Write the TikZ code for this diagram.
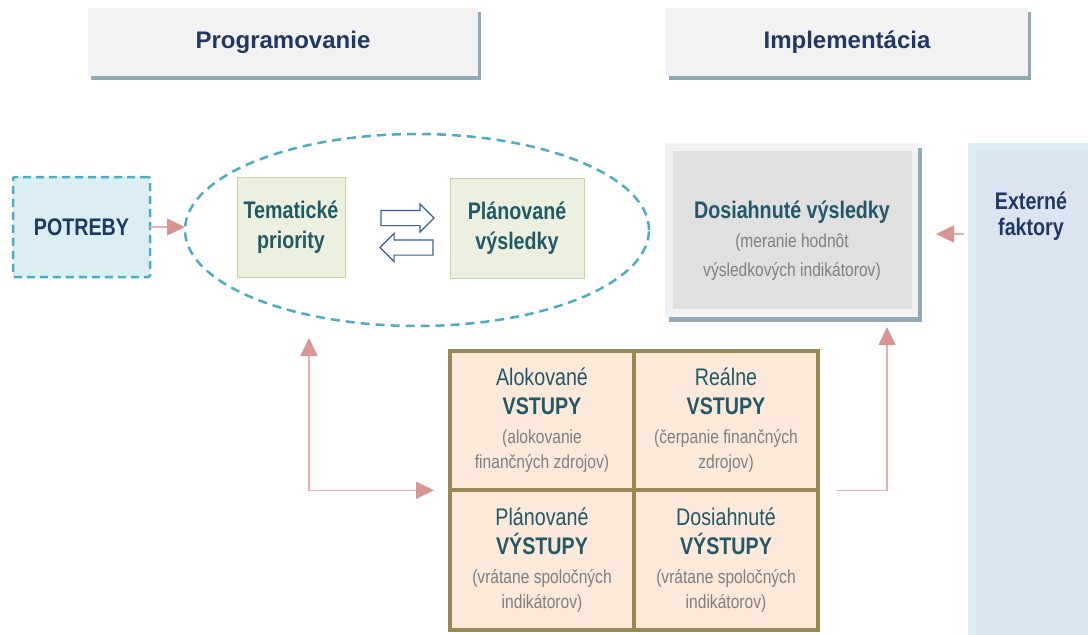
\documentclass[tikz,border=0pt]{standalone}
\usepackage{fontspec}
\setmainfont{Liberation Sans}
\newfontfamily\narrowsans[FakeStretch=0.82]{Liberation Sans}
\usepackage{tikz}
\usetikzlibrary{arrows.meta, positioning, shapes.geometric, shapes.arrows, shadows}

\definecolor{navy}{HTML}{1F3864}
\definecolor{tealtext}{HTML}{215968}
\definecolor{subgray}{HTML}{7F7F7F}
\definecolor{headfill}{HTML}{F2F2F2}
\definecolor{shadowcol}{HTML}{8EAAB4}
\definecolor{needfill}{HTML}{DAEEF3}
\definecolor{dashblue}{HTML}{4BACC6}
\definecolor{greenfill}{HTML}{EBF1DE}
\definecolor{greenline}{HTML}{C3D69B}
\definecolor{grayinner}{HTML}{DFE0DF}
\definecolor{extinner}{HTML}{DBE5F1}
\definecolor{peach}{HTML}{FDE9D9}
\definecolor{olive}{HTML}{948A54}
\definecolor{pinkline}{HTML}{E6AFAE}
\definecolor{pinktip}{HTML}{D99594}
\definecolor{arrowblue}{HTML}{3A5C96}

\newcommand\bunka[4]{{\fontsize{24}{29}\selectfont #1}\\[4pt]%
    {\bfseries\fontsize{24}{29}\selectfont #2}\\[4pt]%
    \textcolor{subgray}{#3}\\\textcolor{subgray}{#4}}

\begin{document}
\begin{tikzpicture}[
        x=1pt, y=-1pt,
        >={Triangle[length=18pt, width=17pt, color=pinktip]},
        every node/.style={outer sep=0pt},
        header/.style={fill=headfill, minimum height=68pt, text=navy,
            drop shadow={shadow xshift=3pt, shadow yshift=-4pt, fill=shadowcol, opacity=1},
            font=\bfseries\fontsize{24}{28}\selectfont},
        need/.style={draw=dashblue, fill=needfill, line width=2.5pt,
            dash pattern=on 8pt off 5pt, rounded corners=2pt,
            text=navy, font=\narrowsans\bfseries\fontsize{24}{28}\selectfont},
        greenbox/.style={draw=greenline, fill=greenfill, minimum width=108pt,
            minimum height=100pt, align=center, text=tealtext,
            font=\narrowsans\bfseries\fontsize{24}{30}\selectfont},
        swap/.style={single arrow, draw=arrowblue, fill=white, line width=1.2pt,
            single arrow head extend=6.5pt, inner xsep=0pt, inner ysep=7pt,
            minimum height=53pt, anchor=tail},
        cell/.style={draw=olive, line width=4pt, fill=peach, minimum width=184pt,
            minimum height=139.5pt, align=center, text=tealtext,
            font=\narrowsans\fontsize{19}{25}\selectfont},
        link/.style={draw=pinkline, line width=1.5pt}]

    \useasboundingbox (0,0) rectangle (1088,635);

    \node [header, minimum width=390pt] (prog) at (283,42) {Programovanie};
    \node [header, minimum width=362pt] (impl) at (847,42) {Implementácia};

    \node [need, minimum width=137pt, minimum height=100pt] (potreby) at (81.5,227) {POTREBY};
    \node [ellipse, draw=dashblue, line width=2.5pt, dash pattern=on 9pt off 6pt,
           minimum width=464pt, minimum height=192pt] (cyklus) at (417,230) {};
    \node [greenbox] (tema) at (291,227.5) {Tematické\\priority};
    \node [greenbox, minimum width=134pt] (plan) at (517,228) {Plánované\\výsledky};
    \node [swap] (tam) at (381,218) {};
    \node [swap, shape border rotate=180] (spat) at (433,247.5) {};

    \node [fill=headfill, minimum width=253pt, minimum height=174pt,
           drop shadow={shadow xshift=4pt, shadow yshift=-5pt, fill=shadowcol, opacity=1}]
           (dosiahnute) at (791.5,230) {};
    \node [fill=grayinner, minimum width=239pt, minimum height=158pt] (vnutro) at (792.5,230) {};
    \node [align=center, text=subgray, font=\narrowsans\fontsize{19}{29}\selectfont] (vysledky) at (792,241)
          {{\bfseries\fontsize{24}{29}\selectfont\color{tealtext}Dosiahnuté výsledky}\\(meranie hodnôt\\výsledkových indikátorov)};

    \node [fill=needfill, minimum width=130pt, minimum height=500pt, anchor=north west] (externe) at (968,143) {};
    \node [fill=extinner, minimum width=120pt, minimum height=490pt, anchor=north west] (externevnutro) at (976,151) {};
    \node [align=center, text=navy, font=\narrowsans\bfseries\fontsize{24}{26}\selectfont] (faktory) at (1031,216) {Externé\\faktory};

    \node [cell] (alok) at (542,420.5) {\bunka{Alokované}{VSTUPY}{(alokovanie}{finančných zdrojov)}};
    \node [cell, right=0pt of alok] (real) {\bunka{Reálne}{VSTUPY}{(čerpanie finančných}{zdrojov)}};
    \node [cell, below=0pt of alok] (planv) {\bunka{Plánované}{VÝSTUPY}{(vrátane spoločných}{indikátorov)}};
    \node [cell, right=0pt of planv] (dosv) {\bunka{Dosiahnuté}{VÝSTUPY}{(vrátane spoločných}{indikátorov)}};

    \coordinate (lroh) at (309,490);
    \coordinate (rroh) at (887,490);
    \coordinate (vplyv) at ([yshift=-4pt]dosiahnute.east);

    \path (potreby.east) edge [link, ->] (potreby.east -| cyklus.west)
          (externe.west |- vplyv) edge [link, ->, shorten <=4pt, shorten >=18pt] (vplyv);
    \draw [link, <->, shorten <=12pt, shorten >=16pt] (cyklus.south -| lroh) |- (planv.north west);
    \draw [link, ->, shorten <=19pt, shorten >=10pt] (real.south east) -| (dosiahnute.south -| rroh);
\end{tikzpicture}
\end{document}
